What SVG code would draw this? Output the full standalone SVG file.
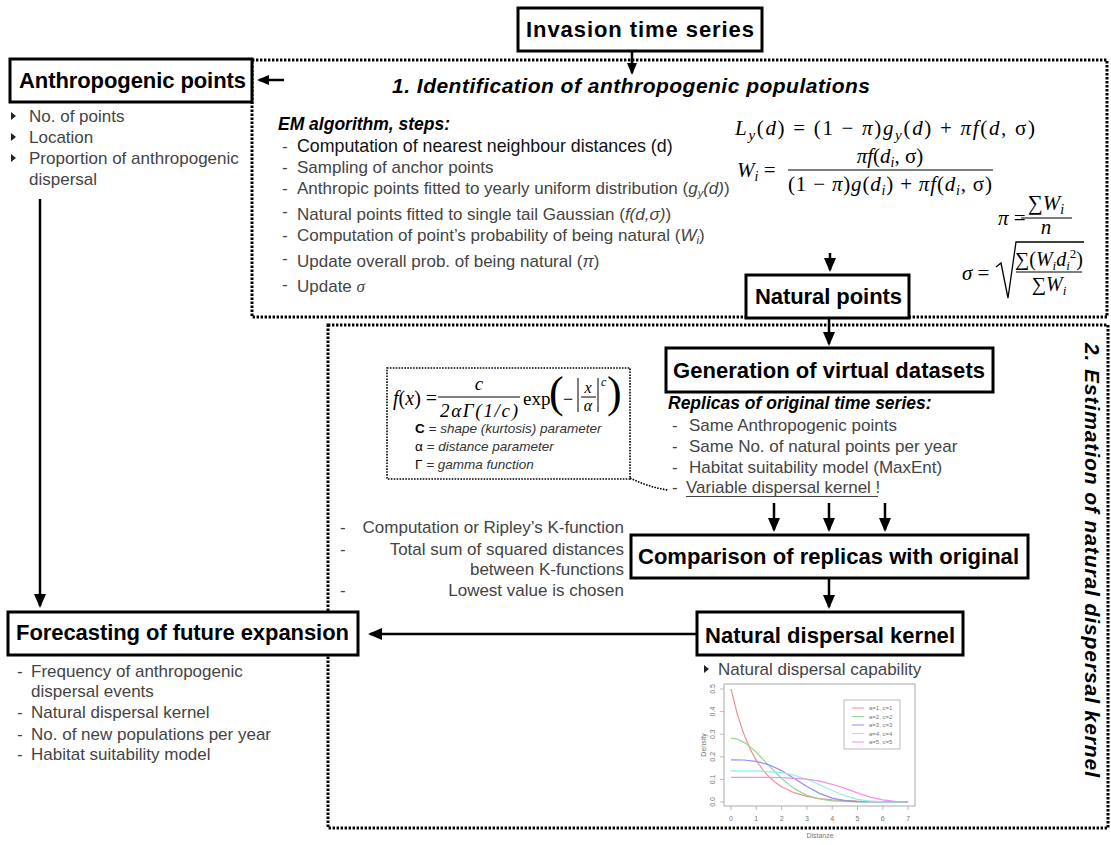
<svg xmlns="http://www.w3.org/2000/svg" width="1111" height="845" viewBox="0 0 1111 845">
<defs>
<marker id="ah" viewBox="0 0 14 12" refX="12" refY="6" markerWidth="14" markerHeight="12" markerUnits="userSpaceOnUse" orient="auto"><path d="M0,0 L14,6 L0,12 z" fill="#000"/></marker>
<marker id="ahs" viewBox="0 0 12 10" refX="10" refY="5" markerWidth="12" markerHeight="10" markerUnits="userSpaceOnUse" orient="auto"><path d="M0,0 L12,5 L0,10 z" fill="#000"/></marker>
</defs>
<style>
.box{fill:#fff;stroke:#000;stroke-width:3}
.title{font-family:"Liberation Sans",Arial,sans-serif;font-weight:bold;font-size:22px;fill:#000}
.body{font-family:"Liberation Sans",Arial,sans-serif;font-size:17px;fill:#444}
.bi{font-family:"Liberation Sans",Arial,sans-serif;font-weight:bold;font-style:italic;fill:#000}
.dot{fill:none;stroke:#000;stroke-width:3;stroke-dasharray:2.4 1.6}
.dot2{fill:none;stroke:#000;stroke-width:1.6;stroke-dasharray:1.6 1.3}
.arr{stroke:#000;stroke-width:2.5;fill:none;marker-end:url(#ah)}
.arrs{stroke:#000;stroke-width:2.5;fill:none;marker-end:url(#ahs)}
.math{font-family:"Liberation Serif","Times New Roman",serif;fill:#000}
.it{font-style:italic}
.small{font-family:"Liberation Sans",Arial,sans-serif;font-size:13.5px;fill:#333}
.ax{font-family:"Liberation Sans",Arial,sans-serif;fill:#777}
.bul{fill:#222}
</style>
<rect width="1111" height="845" fill="#fff"/>

<!-- dotted group frames -->
<g id="frames">
<rect class="dot" x="252" y="60" width="855" height="257"/>
<rect class="dot" x="328" y="325" width="780" height="503"/>
<text class="bi" font-size="21" x="392" y="93" textLength="478">1. Identification of anthropogenic populations</text>
<text class="bi" font-size="21" transform="translate(1085,343) rotate(90)" textLength="434">2. Estimation of natural dispersal kernel</text>
</g>

<!-- connectors -->
<g id="connectors">
<line class="arrs" x1="632" y1="51" x2="632" y2="73"/>
<line class="arrs" x1="284" y1="80" x2="259" y2="80"/>
<line class="arr" x1="40" y1="199" x2="40" y2="606"/>
<line class="arr" x1="830" y1="253" x2="830" y2="270"/>
<line class="arr" x1="829" y1="318" x2="829" y2="344"/>
<line class="arr" x1="774" y1="503" x2="774" y2="530"/>
<line class="arr" x1="829" y1="503" x2="829" y2="530"/>
<line class="arr" x1="885" y1="503" x2="885" y2="530"/>
<line class="arr" x1="829" y1="578" x2="829" y2="607"/>
<line class="arr" x1="697" y1="634" x2="370" y2="634"/>
<path class="dot2" d="M630,478 Q648,487 668,490"/>
</g>

<!-- nodes -->
<g id="invasion">
<rect class="box" x="518" y="8" width="244" height="43"/>
<text class="title" x="526" y="37" textLength="228">Invasion time series</text>
</g>

<g id="anthropogenic">
<rect class="box" x="10" y="59" width="242" height="43"/>
<text class="title" x="19" y="88" textLength="227">Anthropogenic points</text>
<g class="bul">
<polygon points="11,112 16,116 11,120"/>
<polygon points="11,133 16,137 11,141"/>
<polygon points="11,154 16,158 11,162"/>
</g>
<text class="body" x="29" y="122">No. of points</text>
<text class="body" x="29" y="143">Location</text>
<text class="body" x="29" y="164">Proportion of anthropogenic</text>
<text class="body" x="29" y="185">dispersal</text>
</g>

<g id="em-steps">
<text class="bi" font-size="17.5" x="278" y="130">EM algorithm, steps:</text>
<text class="body" x="282" y="152">-</text>
<text class="body" x="297" y="152" style="fill:#111;font-size:17.8px">Computation of nearest neighbour distances (d)</text>
<text class="body" x="282" y="173">-</text>
<text class="body" x="297" y="173">Sampling of anchor points</text>
<text class="body" x="282" y="194">-</text>
<text class="body" x="297" y="194">Anthropic points fitted to yearly uniform distribution (<tspan class="it">g</tspan><tspan class="it" font-size="11" dy="3">y</tspan><tspan class="it" dy="-3">(d)</tspan>)</text>
<text class="body" x="282" y="217">-</text>
<text class="body" x="297" y="220">Natural points fitted to single tail Gaussian (<tspan class="it">f(d,σ)</tspan>)</text>
<text class="body" x="282" y="241">-</text>
<text class="body" x="297" y="241">Computation of point’s probability of being natural (<tspan class="it">W</tspan><tspan class="it" font-size="11" dy="3">i</tspan><tspan dy="-3">)</tspan></text>
<text class="body" x="282" y="264">-</text>
<text class="body" x="297" y="267">Update overall prob. of being natural (<tspan class="it">π</tspan>)</text>
<text class="body" x="282" y="290">-</text>
<text class="body" x="297" y="292">Update <tspan class="it" font-family="Liberation Serif,serif">σ</tspan></text>
</g>

<g id="em-formulas">
<text class="math" font-size="21" x="735" y="135" textLength="300"><tspan class="it">L</tspan><tspan class="it" font-size="15" dy="5">y</tspan><tspan dy="-5">(</tspan><tspan class="it">d</tspan>) = (1 − <tspan class="it">π</tspan>)<tspan class="it">g</tspan><tspan class="it" font-size="15" dy="5">y</tspan><tspan dy="-5">(</tspan><tspan class="it">d</tspan>) + <tspan class="it">πf</tspan>(<tspan class="it">d</tspan>, σ)</text>
<text class="math" font-size="21" x="737" y="177"><tspan class="it">W</tspan><tspan class="it" font-size="14" dy="4">i</tspan><tspan dy="-4"> =</tspan></text>
<text class="math" font-size="21" x="890" y="163" text-anchor="middle"><tspan class="it">πf</tspan>(<tspan class="it">d</tspan><tspan class="it" font-size="14" dy="4">i</tspan><tspan dy="-4">, σ)</tspan></text>
<line x1="788" y1="170" x2="993" y2="170" stroke="#000" stroke-width="1.2"/>
<text class="math" font-size="21" x="788" y="191" textLength="204">(1 − <tspan class="it">π</tspan>)<tspan class="it">g</tspan>(<tspan class="it">d</tspan><tspan class="it" font-size="14" dy="4">i</tspan><tspan dy="-4">) + </tspan><tspan class="it">πf</tspan>(<tspan class="it">d</tspan><tspan class="it" font-size="14" dy="4">i</tspan><tspan dy="-4">, σ)</tspan></text>
<text class="math" font-size="21" x="998" y="225"><tspan class="it">π</tspan> =</text>
<text class="math" font-size="21" x="1046" y="210" text-anchor="middle">∑<tspan class="it">W</tspan><tspan class="it" font-size="14" dy="4">i</tspan></text>
<line x1="1021" y1="218" x2="1072" y2="218" stroke="#000" stroke-width="1.2"/>
<text class="math it" font-size="21" x="1046" y="234" text-anchor="middle">n</text>
<text class="math" font-size="21" x="962" y="280"><tspan class="it">σ</tspan> =</text>
<path d="M996,267 L1001,263 L1008,298 L1016,242 L1084,242" fill="none" stroke="#000" stroke-width="1.3"/>
<text class="math" x="1049" y="266" text-anchor="middle" font-size="20">∑(<tspan class="it">W</tspan><tspan class="it" font-size="13" dy="4">i</tspan><tspan class="it" dy="-4">d</tspan><tspan class="it" font-size="13" dy="4">i</tspan><tspan font-size="13" dy="-12">2</tspan><tspan dy="8">)</tspan></text>
<line x1="1016" y1="272" x2="1082" y2="272" stroke="#000" stroke-width="1.2"/>
<text class="math" x="1049" y="291" text-anchor="middle" font-size="20">∑<tspan class="it">W</tspan><tspan class="it" font-size="13" dy="4">i</tspan></text>
</g>

<g id="natural-points">
<rect class="box" x="746" y="275" width="163" height="43"/>
<text class="title" x="755" y="304" textLength="147">Natural points</text>
</g>

<g id="kernel-formula">
<rect class="dot2" x="387" y="368" width="243" height="111"/>
<text class="math" x="393" y="405" font-size="20"><tspan class="it">f</tspan>(<tspan class="it">x</tspan>) =</text>
<text class="math it" x="479" y="390" text-anchor="middle" font-size="19">c</text>
<line x1="438" y1="397" x2="520" y2="397" stroke="#000" stroke-width="1"/>
<text class="math it" x="440" y="417" font-size="19" textLength="78">2αΓ(1/c)</text>
<text class="math" x="523" y="405" font-size="19">exp</text>
<text class="math" x="549" y="407" font-size="44">(</text>
<text class="math" x="563" y="405" font-size="18">−</text>
<line x1="578" y1="378" x2="578" y2="412" stroke="#000" stroke-width="1"/>
<line x1="598" y1="378" x2="598" y2="412" stroke="#000" stroke-width="1"/>
<text class="math it" x="588" y="393" text-anchor="middle" font-size="16">x</text>
<line x1="581" y1="397" x2="596" y2="397" stroke="#000" stroke-width="1"/>
<text class="math it" x="588" y="411" text-anchor="middle" font-size="16">α</text>
<text class="math it" x="601" y="386" font-size="12">c</text>
<text class="math" x="607" y="407" font-size="44">)</text>
<text class="small" x="415" y="433"><tspan font-weight="bold" fill="#000">C</tspan><tspan font-style="italic"> = shape (kurtosis) parameter</tspan></text>
<text class="small" x="415" y="451"><tspan fill="#000">α</tspan><tspan font-style="italic"> = distance parameter</tspan></text>
<text class="small" x="415" y="469"><tspan fill="#000">Γ</tspan><tspan font-style="italic"> = gamma function</tspan></text>
</g>

<g id="generation">
<rect class="box" x="666" y="348" width="327" height="44"/>
<text class="title" x="673" y="378" textLength="312">Generation of virtual datasets</text>
<text class="bi" font-size="17.5" x="668" y="409">Replicas of original time series:</text>
<text class="body" x="672" y="431">-</text>
<text class="body" x="689" y="431">Same Anthropogenic points</text>
<text class="body" x="672" y="452">-</text>
<text class="body" x="689" y="452">Same No. of natural points per year</text>
<text class="body" x="672" y="473">-</text>
<text class="body" x="689" y="473">Habitat suitability model (MaxEnt)</text>
<text class="body" x="672" y="493">-</text>
<text class="body" x="686" y="493">Variable dispersal kernel !</text>
<line x1="686" y1="496.5" x2="878" y2="496.5" stroke="#444" stroke-width="1"/>
</g>

<g id="comparison">
<rect class="box" x="631" y="535" width="397" height="43"/>
<text class="title" x="638" y="564" textLength="381">Comparison of replicas with original</text>
<text class="body" x="340" y="533">-</text>
<text class="body" x="624" y="533" text-anchor="end">Computation or Ripley’s K-function</text>
<text class="body" x="340" y="555">-</text>
<text class="body" x="624" y="555" text-anchor="end">Total sum of squared distances</text>
<text class="body" x="624" y="575" text-anchor="end">between K-functions</text>
<text class="body" x="340" y="596">-</text>
<text class="body" x="624" y="596" text-anchor="end">Lowest value is chosen</text>
</g>

<g id="kernel">
<rect class="box" x="697" y="612" width="266" height="43"/>
<text class="title" x="705" y="643" textLength="250">Natural dispersal kernel</text>
<polygon class="bul" points="704,665 709,669 704,673"/>
<text class="body" x="718" y="675">Natural dispersal capability</text>
</g>

<g id="kernel-chart">
<rect x="724" y="684" width="191" height="122" fill="none" stroke="#aaa" stroke-width="1"/>
<g stroke="#aaa" stroke-width="0.8">
<line x1="724" y1="802" x2="720" y2="802"/><line x1="724" y1="779.4" x2="720" y2="779.4"/><line x1="724" y1="756.8" x2="720" y2="756.8"/><line x1="724" y1="734.2" x2="720" y2="734.2"/><line x1="724" y1="711.6" x2="720" y2="711.6"/><line x1="724" y1="689" x2="720" y2="689"/>
<line x1="731" y1="806" x2="731" y2="810"/><line x1="756.3" y1="806" x2="756.3" y2="810"/><line x1="781.6" y1="806" x2="781.6" y2="810"/><line x1="806.9" y1="806" x2="806.9" y2="810"/><line x1="832.2" y1="806" x2="832.2" y2="810"/><line x1="857.5" y1="806" x2="857.5" y2="810"/><line x1="882.8" y1="806" x2="882.8" y2="810"/><line x1="908.1" y1="806" x2="908.1" y2="810"/>
</g>
<g class="ax" font-size="7" text-anchor="middle">
<text transform="translate(715,802) rotate(-90)">0.0</text>
<text transform="translate(715,779.4) rotate(-90)">0.1</text>
<text transform="translate(715,756.8) rotate(-90)">0.2</text>
<text transform="translate(715,734.2) rotate(-90)">0.3</text>
<text transform="translate(715,711.6) rotate(-90)">0.4</text>
<text transform="translate(715,689) rotate(-90)">0.5</text>
<text x="731" y="821">0</text><text x="756.3" y="821">1</text><text x="781.6" y="821">2</text><text x="806.9" y="821">3</text><text x="832.2" y="821">4</text><text x="857.5" y="821">5</text><text x="882.8" y="821">6</text><text x="908.1" y="821">7</text>
<text x="820" y="838">Distanze</text>
<text transform="translate(706,745) rotate(-90)">Density</text>
</g>
<g fill="none" stroke-width="1.2" stroke-linejoin="round">
<polyline stroke="#f29090" points="731,689 737.3,714 743.6,733.5 750,748.6 756.3,760.4 762.6,769.6 769,776.8 775.3,782.4 781.6,786.7 794.2,792.7 806.9,796.4 819.5,798.6 832.2,799.9 857.5,801.2 882.8,801.7 908.1,801.9"/>
<polyline stroke="#90d890" points="731,738.2 737.3,739.2 743.6,742.1 750,746.6 756.3,752.3 769,765.7 781.6,778.5 794.2,788.6 806.9,795.3 819.5,799 832.2,800.8 857.5,801.9 908.1,802"/>
<polyline stroke="#9090f0" points="731,759.8 743.6,760 756.3,761.4 769,764.8 781.6,770.6 794.2,778.4 806.9,786.5 819.5,793.4 832.2,798.1 844.9,800.6 857.5,801.6 882.8,802 908.1,802"/>
<polyline stroke="#90eeee" points="731,770.8 756.3,770.9 781.6,772.7 794.2,775.2 806.9,779.3 819.5,784.7 832.2,790.5 844.9,795.7 857.5,799.3 870.2,801.1 882.8,801.8 908.1,802"/>
<polyline stroke="#f090f0" points="731,777.4 756.3,777.4 781.6,777.6 806.9,779.2 819.5,781.2 832.2,784.3 844.9,788.4 857.5,792.9 870.2,797.1 882.8,799.9 895.5,801.4 908.1,801.9"/>
</g>
<rect x="844" y="700" width="56" height="49" fill="#fff" stroke="#aaa" stroke-width="0.8"/>
<g stroke-width="1">
<line x1="852" y1="708" x2="864" y2="708" stroke="#f29090"/>
<line x1="852" y1="716.5" x2="864" y2="716.5" stroke="#90d890"/>
<line x1="852" y1="725" x2="864" y2="725" stroke="#9090f0"/>
<line x1="852" y1="733.5" x2="864" y2="733.5" stroke="#90eeee"/>
<line x1="852" y1="742" x2="864" y2="742" stroke="#f090f0"/>
</g>
<g class="ax" font-size="6">
<text x="869" y="710">a=1, c=1</text>
<text x="869" y="718.5">a=2, c=2</text>
<text x="869" y="727">a=3, c=3</text>
<text x="869" y="735.5">a=4, c=4</text>
<text x="869" y="744">a=5, c=5</text>
</g>
</g>

<g id="forecasting">
<rect class="box" x="8" y="612" width="350" height="43"/>
<text class="title" x="16" y="640" textLength="333">Forecasting of future expansion</text>
<text class="body" x="17" y="677">-</text>
<text class="body" x="31" y="677">Frequency of anthropogenic</text>
<text class="body" x="31" y="697">dispersal events</text>
<text class="body" x="17" y="718">-</text>
<text class="body" x="31" y="718">Natural dispersal kernel</text>
<text class="body" x="17" y="740">-</text>
<text class="body" x="31" y="740">No. of new populations per year</text>
<text class="body" x="17" y="760">-</text>
<text class="body" x="31" y="760">Habitat suitability model</text>
</g>
</svg>
